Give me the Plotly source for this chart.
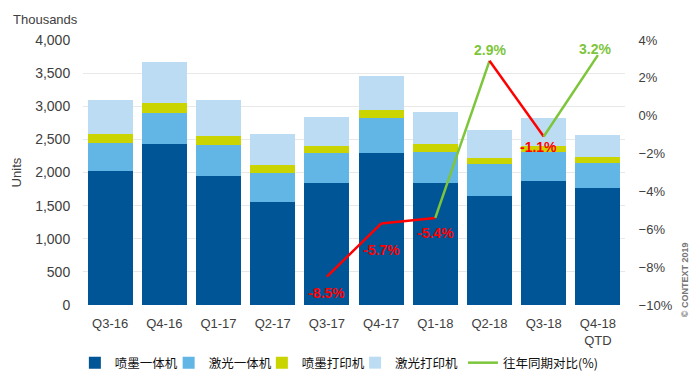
import plotly.graph_objects as go

categories = ["Q3-16", "Q4-16", "Q1-17", "Q2-17", "Q3-17", "Q4-17", "Q1-18", "Q2-18", "Q3-18", "Q4-18<br>QTD"]
inkjet_mfp = [2020, 2430, 1945, 1555, 1840, 2295, 1840, 1645, 1870, 1765]
laser_mfp = [425, 470, 470, 435, 455, 530, 470, 485, 440, 380]
inkjet_printer = [135, 150, 135, 120, 105, 120, 120, 90, 90, 90]
laser_printer = [515, 620, 545, 470, 440, 515, 485, 425, 425, 330]

yoy_categories = ["Q3-17", "Q4-17", "Q1-18", "Q2-18", "Q3-18", "Q4-18<br>QTD"]
yoy_values = [-8.5, -5.7, -5.4, 2.9, -1.1, 3.2]

names = ["喷墨一体机", "激光一体机", "喷墨打印机", "激光打印机", "往年同期对比(%)"]
colors = ["#005596", "#62b6e6", "#c9d400", "#bcdcf4"]
RED = "#ff0000"
GREEN = "#7dc53a"

FONT = "Liberation Sans, Arial, sans-serif"
CJK = "Noto Sans CJK SC, sans-serif"

legend_ids = ["legend", "legend2", "legend3", "legend4", "legend5"]
legend_x = [-0.015, 0.158, 0.330, 0.502, 0.701]

fig = go.Figure()
for vals, nm, c, lg in zip([inkjet_mfp, laser_mfp, inkjet_printer, laser_printer], names[:4], colors, legend_ids[:4]):
    fig.add_trace(go.Bar(x=categories, y=vals, name=nm, marker=dict(color=c, line=dict(width=0)),
                         yaxis="y", hoverinfo="skip", legend=lg))

# line segments colored by sign of end value
for i in range(1, len(yoy_values)):
    col = GREEN if yoy_values[i] > 0 else RED
    fig.add_trace(go.Scatter(x=yoy_categories[i-1:i+1], y=yoy_values[i-1:i+1], mode="lines",
                             line=dict(color=col, width=2.5), yaxis="y2", showlegend=False,
                             hoverinfo="skip"))
# legend entry for line
fig.add_trace(go.Scatter(x=[None], y=[None], mode="lines", line=dict(color=GREEN, width=2.5),
                         name=names[4], yaxis="y2", legend=legend_ids[4]))

# labels
offsets = {-8.5: (0, 16), -5.7: (0, 26), -5.4: (0, 15), 2.9: (0, -11), -1.1: (-5, 10), 3.2: (-3, -6)}
for cat, v in zip(yoy_categories, yoy_values):
    dx, dy = offsets[v]
    fig.add_annotation(x=cat, y=v, yref="y2", text=f"<b>{v:.1f}%</b>", showarrow=False,
                       xshift=dx, yshift=-dy,
                       font=dict(family=FONT, size=14, color=GREEN if v > 0 else RED))

fig.add_annotation(xref="paper", yref="paper", x=-0.133, y=1.077, xanchor="left", yanchor="middle",
                   text="Thousands", showarrow=False, font=dict(family=FONT, size=13, color="#404040"))
fig.add_annotation(xref="paper", yref="paper", x=-0.122, y=0.50, xanchor="center", yanchor="middle",
                   text="Units", textangle=-90, showarrow=False, font=dict(family=FONT, size=13, color="#404040"))
fig.add_annotation(xref="paper", yref="paper", x=1.111, y=0.094, xanchor="center", yanchor="middle",
                   text="<b>© CONTEXT 2019</b>", textangle=-90, showarrow=False,
                   font=dict(family=FONT, size=9, color="#777777"))

legend_common = dict(orientation="h", xanchor="left", yanchor="middle", y=-0.219,
                     font=dict(family=CJK, size=12.5, color="#111111"),
                     itemwidth=30, traceorder="normal", bgcolor="rgba(0,0,0,0)")
legends = {lg: dict(x=lx, **legend_common) for lg, lx in zip(legend_ids, legend_x)}

fig.update_layout(
    width=700, height=383,
    margin=dict(l=75, r=83, t=32, b=86, autoexpand=False),
    barmode="stack", bargap=0.17,
    plot_bgcolor="white", paper_bgcolor="white",
    font=dict(family=FONT, size=13, color="#404040"),
    xaxis=dict(showgrid=False, showline=False, ticks="outside", ticklen=6, tickcolor="rgba(0,0,0,0)",
               automargin=False, tickfont=dict(size=13, color="#404040")),
    yaxis=dict(range=[0, 4000], dtick=500, tickformat=",d", showgrid=True, gridcolor="#e8e8e8",
               zeroline=False, showline=False, ticks="outside", ticklen=9, tickcolor="rgba(0,0,0,0)",
               automargin=False, tickfont=dict(size=14, color="#404040")),
    yaxis2=dict(range=[-10, 4], dtick=2, overlaying="y", side="right", showgrid=False,
                zeroline=False, ticksuffix="%", ticks="outside", ticklen=10, tickcolor="rgba(0,0,0,0)",
                automargin=False, tickfont=dict(size=13, color="#404040")),
    **legends,
)

fig.write_html("out.html")
